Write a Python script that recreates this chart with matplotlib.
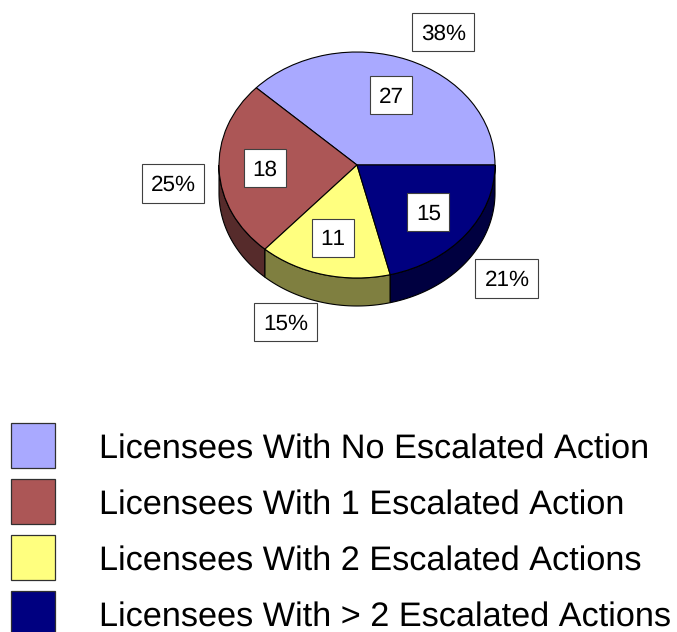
import numpy as np
import matplotlib
matplotlib.use("Agg")
import matplotlib.pyplot as plt
from matplotlib.patches import Rectangle, Polygon

plt.rcParams['font.family'] = ['Liberation Sans', 'DejaVu Sans']
plt.rcParams['text.kerning_factor'] = 6
plt.rcParams['text.hinting'] = 'no_hinting'

# --- data ---
categories = [
    'Licensees With No Escalated Action',
    'Licensees With 1 Escalated Action',
    'Licensees With 2 Escalated Actions',
    'Licensees With > 2 Escalated Actions',
]
counts = [27, 18, 11, 15]
percents = ['38%', '25%', '15%', '21%']
colors = ['#A9A9FF', '#AC5656', '#FFFF7F', '#000080']
side_colors = ['#54547F', '#562B2B', '#7F7F40', '#000040']

W, H = 677, 632
fig = plt.figure(figsize=(W / 100, H / 100), dpi=100)

# pie ellipse in pixels
cx, cy, rx, ry, depth = 357, 165, 138, 113, 28
ax = fig.add_axes([(cx - rx) / W, 1 - (cy + ry) / H, 2 * rx / W, 2 * ry / H])
ax.set_xlim(-1, 1)
ax.set_ylim(-1, 1)
ax.axis('off')
ax.set_clip_on(False)

# --- side wall (only the front half, y < 0) ---
edges = np.cumsum([0] + counts) / sum(counts) * 360
d = depth / ry
for i in range(len(counts)):
    a0, a1 = max(edges[i], 180), min(edges[i + 1], 360)
    if a1 <= a0:
        continue
    t = np.radians(np.linspace(a0, a1, 80))
    top = np.column_stack([np.cos(t), np.sin(t)])
    bottom = (top - [0, d])[::-1]
    ax.add_patch(Polygon(np.vstack([top, bottom]), closed=True, facecolor=side_colors[i],
                         edgecolor='black', linewidth=0.8, clip_on=False, zorder=1))

# --- top face ---
wedges, _ = ax.pie(counts, colors=colors, startangle=0, counterclock=True, radius=1,
                   wedgeprops={'edgecolor': 'black', 'linewidth': 0.8, 'zorder': 2})
for w in wedges:
    w.set_clip_on(False)
ax.set_aspect('auto')
ax.set_xlim(-1, 1)
ax.set_ylim(-1, 1)

# --- overlay in pixel coordinates ---
ov = fig.add_axes([0, 0, 1, 1], zorder=5)
ov.set_xlim(0, W)
ov.set_ylim(H, 0)
ov.axis('off')
ov.patch.set_alpha(0)


def label_box(x0, x1, y0, y1, text):
    ov.add_patch(Rectangle((x0, y0), x1 - x0, y1 - y0, facecolor='white',
                           edgecolor='#404040', linewidth=0.8))
    ov.text((x0 + x1) / 2 + 0.5, (y0 + y1) / 2 + 2, text, ha='center', va='center',
            fontsize=16.2, color='black')


# count labels
count_boxes = [(369.5, 412, 76, 114), (243.5, 286, 148.5, 187),
               (311.5, 354, 218.5, 257), (407, 449, 193, 231)]
for box, n in zip(count_boxes, counts):
    label_box(*box, str(n))

# percent labels
pct_boxes = [(411.5, 474, 12.5, 51), (141.5, 204, 164, 203),
             (254, 317, 303, 341), (475, 538, 259, 298)]
for box, p in zip(pct_boxes, percents):
    label_box(*box, p)

# --- legend ---
swatch_y = [423, 479, 535, 591]
for y, c, name in zip(swatch_y, colors, categories):
    ov.add_patch(Rectangle((11, y), 44, 45, facecolor=c, edgecolor='#303030',
                           linewidth=0.9, clip_on=True))
    ov.text(99, y + 26, name, ha='left', va='center', fontsize=24.7, color='black')

fig.savefig('out.png', dpi=100, facecolor='white')
